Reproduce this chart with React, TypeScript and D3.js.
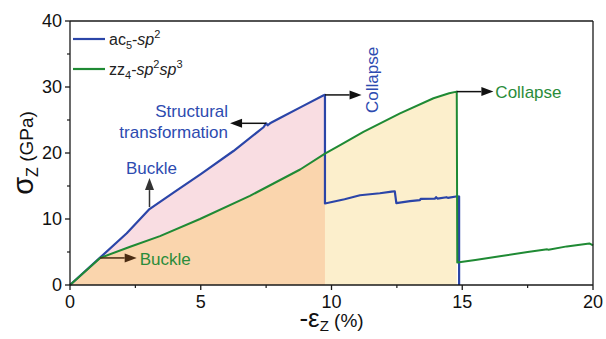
import React from 'react';
import * as d3 from 'd3';

const width = 606;
const height = 339;
const margin = { top: 21, right: 13, bottom: 54, left: 70 };

// Axis ticks
const xTicks = [0, 5, 10, 15, 20];
const xMinorTicks = [2.5, 7.5, 12.5, 17.5];
const yTicks = [0, 10, 20, 30, 40];
const yMinorTicks = [5, 15, 25, 35];

// ac5-sp2 stress–strain curve (strain %, stress GPa)
const blueStrain = [
  0, 1.15, 2.17, 3.04, 4.0, 5.0, 6.25, 7.4, 7.5, 7.56, 7.65, 8.03, 8.9, 9.7, 9.75,
  9.75, 10.5, 11.09, 11.85, 12.3, 12.42, 12.48, 13.0, 13.38, 13.41, 13.96, 14.0, 14.05,
  14.4, 14.45, 14.82, 14.88, 14.88,
];
const blueStress = [
  0, 4.15, 7.85, 11.5, 14.1, 16.8, 20.3, 23.9, 24.5, 24.2, 24.5, 25.3, 27.1, 28.75, 28.8,
  12.35, 13.0, 13.6, 13.9, 14.15, 14.2, 12.4, 12.7, 12.85, 13.05, 13.1, 13.3, 13.1,
  13.3, 13.2, 13.45, 13.4, 0,
];

// zz4-sp2sp3 stress–strain curve
const greenStrain = [
  0, 1.15, 2.3, 3.44, 4.97, 6.88, 8.8, 9.75, 10.33, 11.22, 12.62, 13.9, 14.5, 14.79,
  14.81, 15.5, 16.5, 17.5, 18.25, 18.3, 19.0, 19.86, 20.0,
];
const greenStress = [
  0, 4.1, 5.8, 7.4, 10.0, 13.5, 17.5, 19.9, 21.2, 23.2, 26.0, 28.3, 29.05, 29.3,
  3.4, 3.8, 4.4, 5.0, 5.4, 5.35, 5.85, 6.3, 6.0,
];

// Collapse strains of the two structures
const blueCollapseStrain = 9.75;
const greenCollapseStrain = 14.79;

const BLUE = '#2b45a8';
const GREEN = '#1f8a34';
const BLUE_TEXT = '#2d4bb0';
const GREEN_TEXT = '#2a8c3a';
const PINK = '#f9dde2';
const PEACH = '#fad5ad';
const CREAM = '#fcefcc';
const AXIS = '#1a1a1a';
const FONT = '"Liberation Sans", Arial, Helvetica, sans-serif';

type Pt = [number, number];

function Arrow({ x1, y1, x2, y2, color }: { x1: number; y1: number; x2: number; y2: number; color: string }) {
  const len = Math.hypot(x2 - x1, y2 - y1);
  const ux = (x2 - x1) / len;
  const uy = (y2 - y1) / len;
  const head = 12;
  const half = 4.5;
  const bx = x2 - ux * head;
  const by = y2 - uy * head;
  const pts = [
    [x2, y2],
    [bx - uy * half, by + ux * half],
    [bx + uy * half, by - ux * half],
  ];
  return (
    <g>
      <line x1={x1} y1={y1} x2={bx} y2={by} stroke={color} strokeWidth={1.5} />
      <polygon points={pts.map((p) => p.join(',')).join(' ')} fill={color} />
    </g>
  );
}

export default function App() {
  const x = d3.scaleLinear().domain([0, 20]).range([margin.left, width - margin.right]);
  const y = d3.scaleLinear().domain([0, 40]).range([height - margin.bottom, margin.top]);

  const blue: Pt[] = blueStrain.map((s, i) => [s, blueStress[i]]);
  const green: Pt[] = greenStrain.map((s, i) => [s, greenStress[i]]);

  const line = d3.line<Pt>().x((d) => x(d[0])).y((d) => y(d[1]));
  const area = d3
    .area<Pt>()
    .x((d) => x(d[0]))
    .y0(y(0))
    .y1((d) => y(d[1]));

  const peakIdx = blue.findIndex((d, i) => i > 0 && d[0] === blueCollapseStrain);
  const pinkData = blue.slice(0, peakIdx + 1);
  const peachData = green.filter((d) => d[0] <= blueCollapseStrain);
  const greenPeakIdx = green.findIndex((d) => d[0] === greenCollapseStrain);
  const creamData = green.slice(0, greenPeakIdx + 1).filter((d) => d[0] >= blueCollapseStrain);

  const x0 = x(0);
  const x1 = x(20);
  const y0 = y(0);
  const y1 = y(40);

  // annotation anchors from the data
  const blueBuckle = blue[3];
  const greenBuckle = green[1];
  const blueTransform = blue[8];
  const bluePeak = blue[peakIdx];
  const greenPeak = green[greenPeakIdx];

  return (
    <svg
      width={width}
      height={height}
      style={{ position: 'absolute', left: 0, top: 0, background: '#fff' }}
      fontFamily={FONT}
    >
      <rect width={width} height={height} fill="#fff" />

      {/* shaded regions */}
      <path d={area(pinkData) ?? ''} fill={PINK} />
      <path d={area(peachData) ?? ''} fill={PEACH} />
      <path d={area(creamData) ?? ''} fill={CREAM} />

      {/* curves */}
      <path d={line(blue) ?? ''} fill="none" stroke={BLUE} strokeWidth={2.2} strokeLinejoin="round" />
      <path d={line(green) ?? ''} fill="none" stroke={GREEN} strokeWidth={2} strokeLinejoin="round" />

      {/* frame */}
      <line x1={x0} y1={y1} x2={x1} y2={y1} stroke={AXIS} strokeWidth={1.3} />
      <line x1={x1} y1={y1} x2={x1} y2={y0} stroke={AXIS} strokeWidth={1.3} />
      <line x1={x0} y1={y0} x2={x1} y2={y0} stroke={AXIS} strokeWidth={1.3} />
      <line x1={x0} y1={y1} x2={x0} y2={y0} stroke={AXIS} strokeWidth={1.3} />

      {/* x ticks */}
      {xTicks.map((t) => (
        <g key={'xt' + t}>
          <line x1={x(t)} x2={x(t)} y1={y0} y2={y0 + 5} stroke={AXIS} strokeWidth={1.3} />
          <text x={x(t)} y={y0 + 23} fontSize={18} textAnchor="middle" fill="#111">
            {t}
          </text>
        </g>
      ))}
      {xMinorTicks.map((t) => (
        <line key={'xm' + t} x1={x(t)} x2={x(t)} y1={y0} y2={y0 + 3} stroke={AXIS} strokeWidth={1.2} />
      ))}

      {/* y ticks */}
      {yTicks.map((t) => (
        <g key={'yt' + t}>
          <line x1={x0 - 5} x2={x0} y1={y(t)} y2={y(t)} stroke={AXIS} strokeWidth={1.3} />
          <text x={x0 - 8} y={y(t) + 6} fontSize={18} textAnchor="end" fill="#111">
            {t}
          </text>
        </g>
      ))}
      {yMinorTicks.map((t) => (
        <line key={'ym' + t} x1={x0 - 3} x2={x0} y1={y(t)} y2={y(t)} stroke={AXIS} strokeWidth={1.2} />
      ))}

      {/* axis titles */}
      <text x={(x0 + x1) / 2} y={327} textAnchor="middle" fill="#111">
        <tspan fontSize={26}>-ε</tspan>
        <tspan fontSize={15} dy={4}>Z</tspan>
        <tspan fontSize={19} dy={-4}> (%)</tspan>
      </text>
      <text transform={`translate(33, ${(y0 + y1) / 2}) rotate(-90)`} textAnchor="middle" fill="#111">
        <tspan fontSize={29}>σ</tspan>
        <tspan fontSize={16} dy={5}>Z</tspan>
        <tspan fontSize={19} dy={-5}> (GPa)</tspan>
      </text>

      {/* legend */}
      <line x1={73} x2={105} y1={39} y2={39} stroke={BLUE} strokeWidth={2.2} />
      <text x={109} y={45} fontSize={16} fill="#222">
        <tspan>ac</tspan>
        <tspan fontSize={11} dy={4}>5</tspan>
        <tspan dy={-4}>-</tspan>
        <tspan fontStyle="italic">sp</tspan>
        <tspan fontSize={11} dy={-7}>2</tspan>
      </text>
      <line x1={73} x2={105} y1={69} y2={69} stroke={GREEN} strokeWidth={2.2} />
      <text x={109} y={75} fontSize={16} fill="#222">
        <tspan>zz</tspan>
        <tspan fontSize={11} dy={4}>4</tspan>
        <tspan dy={-4}>-</tspan>
        <tspan fontStyle="italic">sp</tspan>
        <tspan fontSize={11} dy={-7}>2</tspan>
        <tspan fontStyle="italic" dy={7}>sp</tspan>
        <tspan fontSize={11} dy={-7}>3</tspan>
      </text>

      {/* blue buckle */}
      <Arrow x1={x(blueBuckle[0])} y1={y(blueBuckle[1]) - 2} x2={x(blueBuckle[0])} y2={y(16.2)} color="#333" />
      <text x={x(blueBuckle[0]) + 2} y={y(16.2) - 4} fontSize={17} textAnchor="middle" fill={BLUE_TEXT}>
        Buckle
      </text>

      {/* green buckle */}
      <Arrow x1={x(greenBuckle[0])} y1={y(greenBuckle[1])} x2={x(2.55)} y2={y(greenBuckle[1])} color="#4a2b12" />
      <text x={x(2.55) + 3} y={y(greenBuckle[1]) + 7} fontSize={17} fill={GREEN_TEXT}>
        Buckle
      </text>

      {/* structural transformation */}
      <Arrow x1={x(blueTransform[0])} y1={y(blueTransform[1])} x2={x(6.12)} y2={y(blueTransform[1])} color="#111" />
      <text x={x(6.12) - 2} y={117} fontSize={17} textAnchor="end" fill={BLUE_TEXT}>
        Structural
      </text>
      <text x={x(6.12) - 2} y={138} fontSize={17} textAnchor="end" fill={BLUE_TEXT}>
        transformation
      </text>

      {/* blue collapse */}
      <Arrow x1={x(bluePeak[0])} y1={y(bluePeak[1])} x2={x(11.15)} y2={y(bluePeak[1])} color="#111" />
      <text
        transform={`translate(${x(11.15) + 16}, ${y(bluePeak[1]) - 15}) rotate(-90)`}
        fontSize={17}
        textAnchor="middle"
        fill={BLUE_TEXT}
      >
        Collapse
      </text>

      {/* green collapse */}
      <Arrow x1={x(greenPeak[0])} y1={y(greenPeak[1])} x2={x(16.19)} y2={y(greenPeak[1])} color="#111" />
      <text x={x(16.19) + 2} y={y(greenPeak[1]) + 6} fontSize={17} fill={GREEN_TEXT}>
        Collapse
      </text>
    </svg>
  );
}
